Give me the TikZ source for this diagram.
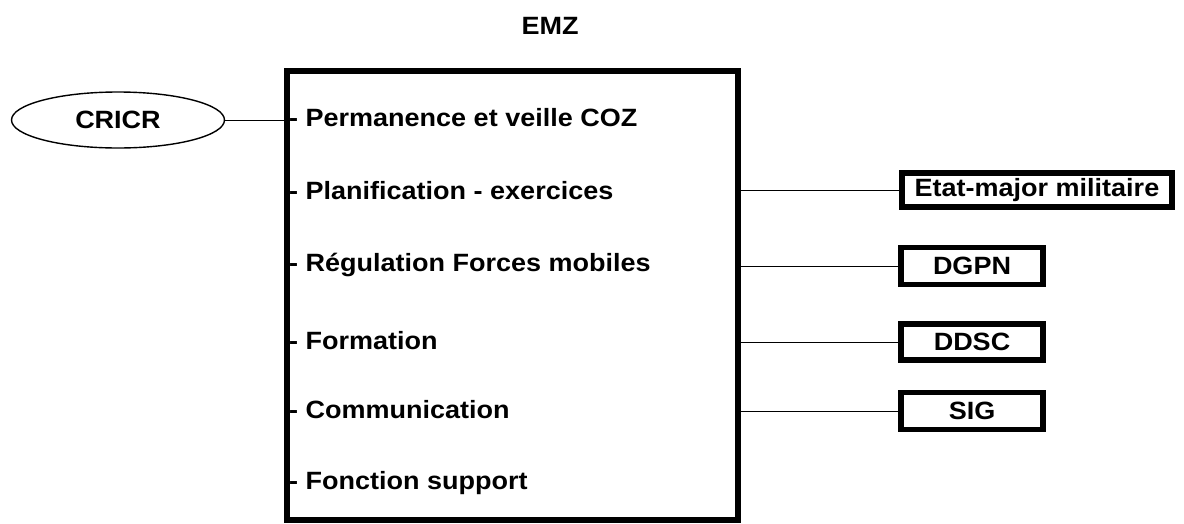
\documentclass[tikz,border=0pt]{standalone}
\usepackage{fontspec}
\setmainfont{Liberation Sans}
\newfontfamily\lblfont[FakeStretch=1.08]{Liberation Sans}
\usetikzlibrary{shapes.geometric}
\begin{document}
\begin{tikzpicture}[x=1pt,y=-1pt,
  txt/.style={font=\lblfont\fontsize{25}{30}\selectfont\bfseries, inner sep=0pt},
  lbl/.style={txt, anchor=west},
  rbox/.style={draw, txt, line width=5.5pt},
  conn/.style={line width=0.9pt}]
\useasboundingbox (0,0) rectangle (1184,523);
\node[txt] (emz) at (550,26) {EMZ};
\node[draw, line width=6pt, minimum width=451pt, minimum height=449pt, inner sep=0pt] (main) at (512.5,295.5) {};
\node[draw, ellipse, line width=1.4pt, minimum width=213pt, minimum height=56pt, txt] (cricr) at (118,120) {CRICR};
\node[lbl] (t1) at (289,118) {- Permanence et veille COZ};
\node[lbl] (t2) at (289,191) {- Planification - exercices};
\node[lbl] (t3) at (289,265) {- Régulation Forces mobiles};
\node[lbl] (t4) at (289,341) {- Formation};
\node[lbl] (t5) at (289,410) {- Communication};
\node[lbl] (t6) at (289,483) {- Fonction support};
\node[rbox, minimum width=270pt, minimum height=34pt] (em) at (1037,190) {Etat-major militaire};
\node[rbox, minimum width=142pt, minimum height=37pt] (dgpn) at (972,266) {DGPN};
\node[rbox, minimum width=142pt, minimum height=36pt] (ddsc) at (972,342) {DDSC};
\node[rbox, minimum width=142pt, minimum height=37pt] (sig) at (972,411) {SIG};
\draw[conn] (cricr.east) -- (cricr.east -| main.west);
\draw[conn] (em.west -| main.east) -- (em.west);
\draw[conn] (dgpn.west -| main.east) -- (dgpn.west);
\draw[conn] (ddsc.west -| main.east) -- (ddsc.west);
\draw[conn] (sig.west -| main.east) -- (sig.west);
\end{tikzpicture}
\end{document}
